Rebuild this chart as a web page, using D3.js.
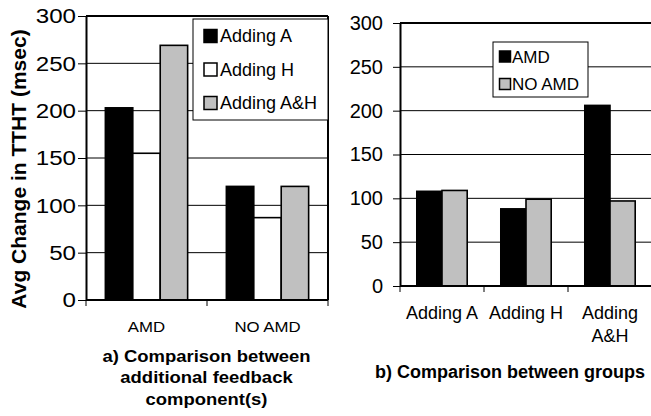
<!DOCTYPE html>
<html>
<head>
<meta charset="utf-8">
<script src="https://cdn.jsdelivr.net/npm/d3@7"></script>
<style>
  body { margin: 0; background: #fff; }
  svg { display: block; }
  text { font-family: "Liberation Sans", Arial, Helvetica, sans-serif; fill: #000; }
</style>
</head>
<body>
<div id="chart"></div>
<script>
// panel a) data
const groupsA = ["AMD", "NO AMD"];
const seriesA = ["Adding A", "Adding H", "Adding A&H"];
const addingA = [203, 120];
const addingH = [155, 87];
const addingAH = [269, 120];

// panel b) data
const groupsB = ["Adding A", "Adding H", "Adding A&H"];
const seriesB = ["AMD", "NO AMD"];
const amdVals = [108, 88, 206];
const noAmdVals = [109, 99, 97];

const yTicks = [0, 50, 100, 150, 200, 250, 300];
const yLabel = "Avg Change in TTHT (msec)";
const titleA = ["a) Comparison between", "additional feedback", "component(s)"];
const titleB = "b) Comparison between groups";

const fillA = ["#000000", "#ffffff", "#c0c0c0"];
const fillB = ["#000000", "#c0c0c0"];

const svg = d3.select("#chart")
  .append("svg")
  .attr("width", 651)
  .attr("height", 416);

// draws one bar panel
function drawPanel(p) {
  const g = svg.append("g");

  const x = d3.scaleBand().domain(p.groups).range([p.left, p.right]);
  const bw = x.bandwidth();
  const x1 = d3.scaleBand().domain(p.series).range([bw * p.inset, bw * (1 - p.inset)]);
  const y = d3.scaleLinear().domain([0, 300]).range([p.bottom, p.top]);

  // gridlines
  g.append("g").selectAll("line")
    .data(yTicks.filter(t => t > 0 && t < 300))
    .join("line")
    .attr("x1", p.left).attr("x2", p.gridEnd)
    .attr("y1", d => y(d)).attr("y2", d => y(d))
    .attr("stroke", "#000").attr("stroke-width", 1);

  // bars
  const rows = [];
  p.groups.forEach((grp, i) => {
    p.series.forEach((s, j) => rows.push({ grp, s, j, v: p.values[j][i] }));
  });
  g.append("g").selectAll("rect")
    .data(rows)
    .join("rect")
    .attr("x", d => x(d.grp) + x1(d.s))
    .attr("width", x1.bandwidth())
    .attr("y", d => y(d.v))
    .attr("height", d => y(0) - y(d.v))
    .attr("fill", d => p.fills[d.j])
    .attr("stroke", "#000")
    .attr("stroke-width", 1.6);

  // frame top / right
  g.append("line")
    .attr("x1", p.left).attr("x2", p.frameRight)
    .attr("y1", p.top).attr("y2", p.top)
    .attr("stroke", "#000").attr("stroke-width", 2);
  if (p.rightBorder) {
    g.append("line")
      .attr("x1", p.right).attr("x2", p.right)
      .attr("y1", p.top).attr("y2", p.bottom)
      .attr("stroke", "#000").attr("stroke-width", 2);
  }

  // y axis
  const yAxis = g.append("g")
    .attr("transform", `translate(${p.left},0)`)
    .call(d3.axisLeft(y).tickValues(yTicks).tickSize(p.tickLen).tickSizeOuter(0).tickPadding(p.tickPad));
  yAxis.select(".domain").attr("stroke-width", 2);
  yAxis.selectAll(".tick line").attr("stroke-width", 1);
  yAxis.selectAll(".tick text")
    .attr("font-size", p.tickFont + "px")
    .attr("font-family", null)
    .attr("x", -(p.tickLen + p.tickPad) / p.tickStretch)
    .attr("transform", `scale(${p.tickStretch},1)`);

  // x axis line and ticks at band edges
  g.append("line")
    .attr("x1", p.left).attr("x2", p.frameRight)
    .attr("y1", y(0)).attr("y2", y(0))
    .attr("stroke", "#000").attr("stroke-width", 2);
  const edges = p.groups.map(d => x(d)).concat([p.right]);
  g.append("g").selectAll("line")
    .data(edges)
    .join("line")
    .attr("x1", d => d).attr("x2", d => d)
    .attr("y1", y(0)).attr("y2", y(0) + 6)
    .attr("stroke", "#000").attr("stroke-width", 1);

  // category labels
  p.groups.forEach(grp => {
    const lines = p.wrap(grp);
    const t = g.append("text")
      .attr("text-anchor", "middle")
      .attr("font-size", p.catFont + "px")
      .attr("transform", `translate(${x(grp) + bw / 2},${p.catY}) scale(${p.catStretch},1)`);
    lines.forEach((ln, k) => {
      t.append("tspan").attr("x", 0).attr("y", k * p.catStep).text(ln);
    });
  });

  // legend
  const lg = g.append("g");
  lg.append("rect")
    .attr("x", p.legend.x).attr("y", p.legend.y)
    .attr("width", p.legend.w).attr("height", p.legend.h)
    .attr("fill", "#fff").attr("stroke", "#000").attr("stroke-width", 1);
  p.series.forEach((s, j) => {
    const cy = p.legend.first + j * p.legend.step;
    lg.append("rect")
      .attr("x", p.legend.sx).attr("y", cy - p.legend.sq / 2)
      .attr("width", p.legend.sq).attr("height", p.legend.sq)
      .attr("fill", p.fills[j]).attr("stroke", "#000").attr("stroke-width", 1.5);
    lg.append("text")
      .attr("x", p.legend.tx).attr("y", cy)
      .attr("dy", "0.36em")
      .attr("font-size", p.legend.font + "px")
      .text(s);
  });
}

// panel a
drawPanel({
  groups: groupsA, series: seriesA, values: [addingA, addingH, addingAH], fills: fillA,
  left: 86, right: 328, top: 16, bottom: 300, gridEnd: 328, frameRight: 328, rightBorder: true,
  inset: 0.16, tickLen: 8, tickPad: 2, tickFont: 21, tickStretch: 1.15,
  catFont: 15, catStretch: 1.12, catY: 332, catStep: 22, wrap: d => [d],
  legend: { x: 193, y: 19, w: 135, h: 101, first: 36, step: 33.5, sx: 204, sq: 13, tx: 220, font: 18 }
});

// panel b
drawPanel({
  groups: groupsB, series: seriesB, values: [amdVals, noAmdVals], fills: fillB,
  left: 400, right: 652, top: 23, bottom: 286, gridEnd: 651, frameRight: 651, rightBorder: false,
  inset: 0.2, tickLen: 7, tickPad: 10, tickFont: 20, tickStretch: 1,
  catFont: 18, catStretch: 1, catY: 319, catStep: 23,
  wrap: d => d.length > 8 ? [d.slice(0, d.lastIndexOf(" ")), d.slice(d.lastIndexOf(" ") + 1)] : [d],
  legend: { x: 493, y: 42, w: 95, h: 55, first: 56.5, step: 27.5, sx: 499.5, sq: 11, tx: 512, font: 17 }
});

// y axis label
svg.append("text")
  .attr("transform", "translate(26,169) rotate(-90)")
  .attr("text-anchor", "middle")
  .attr("font-size", "21px")
  .attr("font-weight", "bold")
  .text(yLabel);

// titles
const ta = svg.append("text")
  .attr("text-anchor", "middle")
  .attr("font-size", "16.5px")
  .attr("font-weight", "bold")
  .attr("transform", "translate(206.5,362) scale(1.12,1)");
titleA.forEach((ln, k) => {
  ta.append("tspan").attr("x", 0).attr("y", k * 21.5).text(ln);
});

svg.append("text")
  .attr("x", 510).attr("y", 378)
  .attr("text-anchor", "middle")
  .attr("font-size", "18px")
  .attr("font-weight", "bold")
  .text(titleB);
</script>
</body>
</html>
